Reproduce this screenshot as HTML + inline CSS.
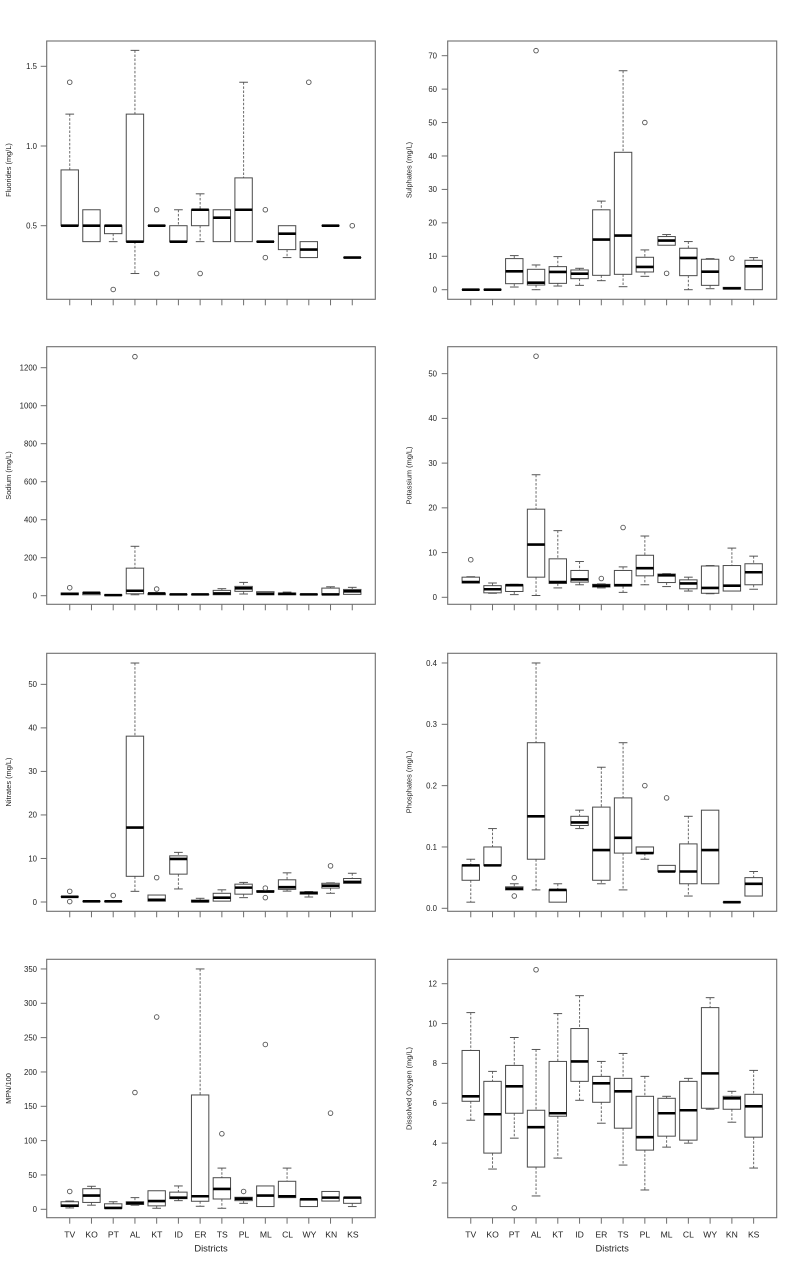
<!DOCTYPE html>
<html><head><meta charset="utf-8">
<style>
html,body{margin:0;padding:0;background:#fff;}
svg{display:block;}
text{font-family:"Liberation Sans",Arial,sans-serif;fill:#222;}
</style></head>
<body>
<svg id="c" width="800" height="1269" viewBox="0 0 800 1269" xmlns="http://www.w3.org/2000/svg">
<rect width="800" height="1269" fill="#fff"/>
<g id="shapes"></g>

<!-- Y tick labels -->
<g font-size="7.8" text-anchor="end">
  <!-- P1 -->
  <text x="37" y="228.5">0.5</text><text x="37" y="148.8">1.0</text><text x="37" y="69.1">1.5</text>
  <!-- P2 -->
  <text x="437" y="292.5">0</text><text x="437" y="259.1">10</text><text x="437" y="225.6">20</text><text x="437" y="192.2">30</text>
  <text x="437" y="158.8">40</text><text x="437" y="125.3">50</text><text x="437" y="91.9">60</text><text x="437" y="58.5">70</text>
  <!-- P3 -->
  <text x="37" y="598.5">0</text><text x="37" y="560.5">200</text><text x="37" y="522.5">400</text><text x="37" y="484.5">600</text>
  <text x="37" y="446.5">800</text><text x="37" y="408.5">1000</text><text x="37" y="370.5">1200</text>
  <!-- P4 -->
  <text x="437" y="600.1">0</text><text x="437" y="555.4">10</text><text x="437" y="510.6">20</text><text x="437" y="465.9">30</text>
  <text x="437" y="421.2">40</text><text x="437" y="376.5">50</text>
  <!-- P5 -->
  <text x="37" y="904.8">0</text><text x="37" y="861.3">10</text><text x="37" y="817.7">20</text><text x="37" y="774.2">30</text>
  <text x="37" y="730.7">40</text><text x="37" y="687.2">50</text>
  <!-- P6 -->
  <text x="437" y="911.1">0.0</text><text x="437" y="849.8">0.1</text><text x="437" y="788.4">0.2</text><text x="437" y="727.1">0.3</text>
  <text x="437" y="665.8">0.4</text>
  <!-- P7 -->
  <text x="37" y="1212.1">0</text><text x="37" y="1177.8">50</text><text x="37" y="1143.4">100</text><text x="37" y="1109.1">150</text>
  <text x="37" y="1074.8">200</text><text x="37" y="1040.4">250</text><text x="37" y="1006.1">300</text><text x="37" y="971.8">350</text>
  <!-- P8 -->
  <text x="437" y="1185.8">2</text><text x="437" y="1145.9">4</text><text x="437" y="1106.1">6</text><text x="437" y="1066.2">8</text>
  <text x="437" y="1026.4">10</text><text x="437" y="986.5">12</text>
</g>

<!-- Y axis titles -->
<g font-size="7.4" text-anchor="middle">
  <text transform="translate(11,170) rotate(-90)">Fluorides (mg/L)</text>
  <text transform="translate(411.5,170) rotate(-90)">Sulphates (mg/L)</text>
  <text transform="translate(11,475.5) rotate(-90)">Sodium (mg/L)</text>
  <text transform="translate(411.5,475.5) rotate(-90)">Potassium (mg/L)</text>
  <text transform="translate(11,782) rotate(-90)">Nitrates (mg/L)</text>
  <text transform="translate(411.5,782) rotate(-90)">Phosphates (mg/L)</text>
  <text transform="translate(11,1088.5) rotate(-90)">MPN/100</text>
  <text transform="translate(411.5,1088.5) rotate(-90)">Dissolved Oxygen (mg/L)</text>
</g>

<!-- Category labels -->
<g font-size="8.6" text-anchor="middle">
  <text x="69.8" y="1237.5">TV</text><text x="91.6" y="1237.5">KO</text><text x="113.4" y="1237.5">PT</text>
  <text x="135.1" y="1237.5">AL</text><text x="156.9" y="1237.5">KT</text><text x="178.7" y="1237.5">ID</text>
  <text x="200.5" y="1237.5">ER</text><text x="222.3" y="1237.5">TS</text><text x="244.0" y="1237.5">PL</text>
  <text x="265.8" y="1237.5">ML</text><text x="287.6" y="1237.5">CL</text><text x="309.4" y="1237.5">WY</text>
  <text x="331.2" y="1237.5">KN</text><text x="352.9" y="1237.5">KS</text>

  <text x="470.8" y="1237.5">TV</text><text x="492.6" y="1237.5">KO</text><text x="514.3" y="1237.5">PT</text>
  <text x="536.1" y="1237.5">AL</text><text x="557.8" y="1237.5">KT</text><text x="579.6" y="1237.5">ID</text>
  <text x="601.4" y="1237.5">ER</text><text x="623.1" y="1237.5">TS</text><text x="644.9" y="1237.5">PL</text>
  <text x="666.6" y="1237.5">ML</text><text x="688.4" y="1237.5">CL</text><text x="710.2" y="1237.5">WY</text>
  <text x="731.9" y="1237.5">KN</text><text x="753.7" y="1237.5">KS</text>
</g>
<g font-size="9.4" text-anchor="middle">
  <text x="211" y="1251.5">Districts</text>
  <text x="612.2" y="1251.5">Districts</text>
</g>
</svg>

<script>
(function(){
var S=document.getElementById('shapes');
var NS='http://www.w3.org/2000/svg';
function add(t,a){var e=document.createElementNS(NS,t);for(var k in a)e.setAttribute(k,a[k]);S.appendChild(e);return e;}
function line(x1,y1,x2,y2,st,w,dash){var a={x1:x1,y1:y1,x2:x2,y2:y2,stroke:st,'stroke-width':w};if(dash)a['stroke-dasharray']=dash;return add('line',a);}
var L={x0:46.7,x1:375.3}, R={x0:447.7,x1:776.7};
var P=[
 {c:L,y0:41,y1:299.3,f:function(v){return 225.7-(v-0.5)*159.4;},t:[0.5,1,1.5],d:[
  [0.5,0.5,0.5,0.85,1.2,[1.4]],[0.4,0.4,0.5,0.6,0.6,[]],[0.4,0.45,0.5,0.5,0.5,[0.1]],[0.2,0.4,0.4,1.2,1.6,[]],
  [0.5,0.5,0.5,0.5,0.5,[0.6,0.2]],[0.4,0.4,0.4,0.5,0.6,[]],[0.4,0.5,0.6,0.6,0.7,[0.2]],[0.4,0.4,0.55,0.6,0.6,[]],
  [0.4,0.4,0.6,0.8,1.4,[]],[0.4,0.4,0.4,0.4,0.4,[0.6,0.3]],[0.3,0.35,0.45,0.5,0.5,[]],[0.3,0.3,0.35,0.4,0.4,[1.4]],
  [0.5,0.5,0.5,0.5,0.5,[]],[0.3,0.3,0.3,0.3,0.3,[0.5]]]},
 {c:R,y0:41,y1:299.3,f:function(v){return 289.7-v*3.343;},t:[0,10,20,30,40,50,60,70],d:[
  [0,0,0,0,0,[]],[0,0,0,0,0,[]],[0.8,1.8,5.5,9.3,10.2,[]],[0,1.4,2.1,6.1,7.4,[71.5]],
  [1.1,1.9,5.3,6.9,9.9,[]],[1.3,3.3,4.8,5.9,6.4,[]],[2.7,4.3,15,23.9,26.5,[]],[0.9,4.6,16.2,41.1,65.5,[]],
  [4,5.3,6.8,9.7,11.9,[50]],[13.3,13.3,14.7,15.9,16.5,[4.9]],[0,4.2,9.5,12.4,14.4,[]],[0.3,1.3,5.4,9.1,9.3,[]],
  [0.2,0.2,0.4,0.7,0.7,[9.4]],[0,0,7,8.8,9.6,[]]]},
 {c:L,y0:346.7,y1:604.3,f:function(v){return 595.7-v*0.19;},t:[0,200,400,600,800,1000,1200],d:[
  [5,5,10,14,14,[42]],[5,5,15,17,17,[]],[2,2,3,4,4,[]],[5,10,26,145,260,[1258]],
  [5,5,12,12,12,[35]],[5,5,7,7,7,[]],[5,5,7,7,7,[]],[5,5,12,28,37,[]],
  [9,23,39,49,70,[]],[5,5,10,21,21,[]],[5,5,10,14,19,[]],[5,5,7,8,8,[]],
  [5,5,7,40,47,[]],[7,7,23,33,44,[]]]},
 {c:R,y0:346.7,y1:604.3,f:function(v){return 597.3-v*4.473;},t:[0,10,20,30,40,50],d:[
  [3.2,3.2,3.4,4.5,4.6,[8.4]],[0.9,1.0,1.8,2.6,3.2,[]],[0.6,1.3,2.7,2.8,2.9,[]],[0.4,4.5,11.8,19.7,27.4,[53.9]],
  [2.1,3.1,3.4,8.6,14.9,[]],[2.8,3.4,4,6,8,[]],[2.1,2.3,2.6,2.9,3.0,[4.2]],[1.1,2.5,2.7,6,6.8,[15.6]],
  [2.8,4.8,6.5,9.4,13.7,[]],[2.4,3.3,4.9,5.2,5.3,[]],[1.4,1.9,3.1,3.9,4.5,[]],[0.8,0.9,2.1,7,7.1,[]],
  [1.4,1.4,2.6,7.1,11,[]],[1.8,2.8,5.6,7.5,9.2,[]]]},
 {c:L,y0:653.3,y1:911.3,f:function(v){return 902-v*4.353;},t:[0,10,20,30,40,50],d:[
  [1.2,1.2,1.2,1.2,1.2,[2.45,0.1]],[0.15,0.15,0.15,0.15,0.15,[]],[0.15,0.15,0.15,0.15,0.15,[1.5]],[2.45,5.9,17.1,38.1,54.9,[]],
  [0.2,0.2,0.5,1.6,1.6,[5.6]],[3,6.4,9.9,10.6,11.4,[]],[0,0,0.15,0.45,0.85,[]],[0.2,0.2,1,2,2.8,[]],
  [1,1.8,3.3,4.1,4.5,[]],[2.3,2.3,2.4,2.6,2.6,[3.2,1]],[2.5,2.9,3.4,5.1,6.7,[]],[1.15,1.8,2.1,2.3,2.4,[]],
  [2,3.2,3.75,4.3,4.4,[8.3]],[4.3,4.3,4.6,5.4,6.6,[]]]},
 {c:R,y0:653.3,y1:911.3,f:function(v){return 908.3-v*613.3;},t:[0,0.1,0.2,0.3,0.4],d:[
  [0.01,0.0457,0.07,0.0707,0.08,[]],[0.07,0.07,0.07,0.1,0.13,[]],[0.03,0.03,0.032,0.035,0.04,[0.05,0.02]],[0.03,0.08,0.15,0.27,0.4,[]],
  [0.01,0.01,0.03,0.03,0.04,[]],[0.13,0.135,0.14,0.15,0.16,[]],[0.04,0.0457,0.095,0.165,0.23,[]],[0.03,0.09,0.115,0.18,0.27,[]],
  [0.08,0.09,0.09,0.1,0.1,[0.2]],[0.06,0.06,0.06,0.07,0.07,[0.18]],[0.02,0.04,0.06,0.105,0.15,[]],[0.04,0.04,0.095,0.16,0.16,[]],
  [0.01,0.01,0.01,0.01,0.01,[]],[0.02,0.02,0.04,0.05,0.06,[]]]},
 {c:L,y0:959.3,y1:1217.7,f:function(v){return 1209.3-v*0.6867;},t:[0,50,100,150,200,250,300,350],d:[
  [2,4,5.3,11,12,[26]],[6,10,20,30,33.5,[]],[1.5,1.5,2,8,11,[]],[6,7,9,11,17,[170]],
  [1.5,5,12,27,27,[280]],[12.6,15.5,17,25,34,[]],[4.4,11.7,19,166.5,350,[]],[1.5,15,29.6,46,60,[110]],
  [8.7,12.6,15.5,17.5,17.5,[26]],[4,4,20,34,34,[240]],[17,17,19,40.8,60,[]],[4,4,14.6,14.6,14.6,[]],
  [12,12,17,26,26,[140]],[4,8.7,17,17,17,[]]]},
 {c:R,y0:959.3,y1:1217.7,f:function(v){return 1183-(v-2)*19.93;},t:[2,4,6,8,10,12],d:[
  [5.15,6.1,6.35,8.65,10.55,[]],[2.7,3.5,5.45,7.1,7.6,[]],[4.25,5.5,6.85,7.9,9.3,[0.75]],[1.35,2.8,4.8,5.65,8.7,[12.7]],
  [3.25,5.35,5.5,8.1,10.5,[]],[6.15,7.1,8.1,9.75,11.4,[]],[5.0,6.05,7.0,7.35,8.1,[]],[2.9,4.75,6.6,7.25,8.5,[]],
  [1.65,3.65,4.3,6.35,7.35,[]],[3.8,4.35,5.5,6.25,6.35,[]],[4.0,4.15,5.65,7.1,7.25,[]],[5.7,5.75,7.5,10.8,11.3,[]],
  [5.05,5.7,6.25,6.35,6.6,[]],[2.75,4.3,5.85,6.45,7.65,[]]]}
];
P.forEach(function(p){
  var x0=p.c.x0,x1=p.c.x1,u=(x1-x0)/15.12;
  add('rect',{x:x0,y:p.y0,width:x1-x0,height:p.y1-p.y0,fill:'none',stroke:'#6e6e6e','stroke-width':1.1});
  p.t.forEach(function(t){var y=p.f(t);line(x0-6,y,x0,y,'#6e6e6e',1);});
  p.d.forEach(function(b,i){
    var cx=x0+(i+1.06)*u,hw=0.4*u,sw=0.2*u;
    var lo=b[0],q1=b[1],md=b[2],q3=b[3],hi=b[4],out=b[5];
    var yq1=p.f(q1),yq3=p.f(q3);
    line(cx,p.y1,cx,p.y1+6,'#6e6e6e',1);
    if(hi>q3){var yh=p.f(hi);line(cx,yh,cx,yq3,'#6a6a6a',1,'2.5,1.6');line(cx-sw,yh,cx+sw,yh,'#555',1);}
    if(lo<q1){var yl=p.f(lo);line(cx,yq1,cx,yl,'#6a6a6a',1,'2.5,1.6');line(cx-sw,yl,cx+sw,yl,'#555',1);}
    add('rect',{x:cx-hw,y:yq3,width:2*hw,height:Math.max(yq1-yq3,0.01),fill:'#fff',stroke:'#4a4a4a','stroke-width':1});
    line(cx-hw,p.f(md),cx+hw,p.f(md),'#000',2.6);
    out.forEach(function(o){add('circle',{cx:cx,cy:p.f(o),r:2.3,fill:'none',stroke:'#555','stroke-width':0.9});});
  });
});
})();
</script>
</body></html>
